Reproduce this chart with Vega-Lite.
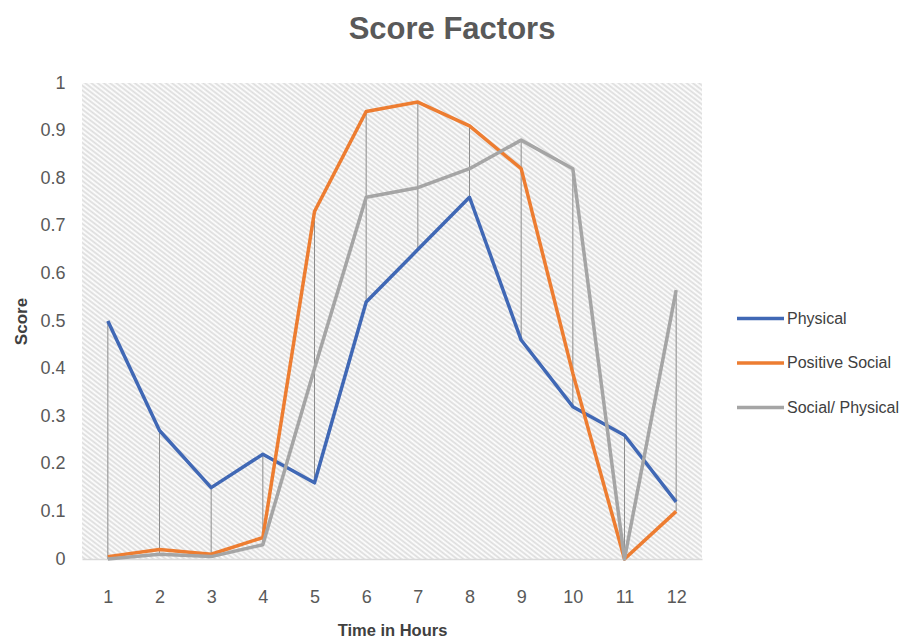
{
  "$schema": "https://vega.github.io/schema/vega-lite/v6.json",
  "autosize": {"type": "none"},
  "padding": {"left": 82, "top": 83, "right": 202, "bottom": 84},
  "width": 620,
  "height": 476,
  "background": "white",
  "title": {
    "text": "Score Factors",
    "font": "Liberation Sans, sans-serif",
    "fontSize": 31,
    "fontWeight": "bold",
    "color": "#595959",
    "anchor": "middle",
    "dx": 60,
    "offset": 28
  },
  "data": {
    "values": [
      {"hour": 1, "series": "Physical", "score": 0.50},
      {"hour": 2, "series": "Physical", "score": 0.27},
      {"hour": 3, "series": "Physical", "score": 0.15},
      {"hour": 4, "series": "Physical", "score": 0.22},
      {"hour": 5, "series": "Physical", "score": 0.16},
      {"hour": 6, "series": "Physical", "score": 0.54},
      {"hour": 7, "series": "Physical", "score": 0.65},
      {"hour": 8, "series": "Physical", "score": 0.76},
      {"hour": 9, "series": "Physical", "score": 0.46},
      {"hour": 10, "series": "Physical", "score": 0.32},
      {"hour": 11, "series": "Physical", "score": 0.26},
      {"hour": 12, "series": "Physical", "score": 0.12},
      {"hour": 1, "series": "Positive Social", "score": 0.005},
      {"hour": 2, "series": "Positive Social", "score": 0.02},
      {"hour": 3, "series": "Positive Social", "score": 0.01},
      {"hour": 4, "series": "Positive Social", "score": 0.045},
      {"hour": 5, "series": "Positive Social", "score": 0.73},
      {"hour": 6, "series": "Positive Social", "score": 0.94},
      {"hour": 7, "series": "Positive Social", "score": 0.96},
      {"hour": 8, "series": "Positive Social", "score": 0.91},
      {"hour": 9, "series": "Positive Social", "score": 0.82},
      {"hour": 10, "series": "Positive Social", "score": 0.39},
      {"hour": 11, "series": "Positive Social", "score": 0.0},
      {"hour": 12, "series": "Positive Social", "score": 0.10},
      {"hour": 1, "series": "Social/ Physical", "score": 0.0},
      {"hour": 2, "series": "Social/ Physical", "score": 0.01},
      {"hour": 3, "series": "Social/ Physical", "score": 0.005},
      {"hour": 4, "series": "Social/ Physical", "score": 0.03},
      {"hour": 5, "series": "Social/ Physical", "score": 0.40},
      {"hour": 6, "series": "Social/ Physical", "score": 0.76},
      {"hour": 7, "series": "Social/ Physical", "score": 0.78},
      {"hour": 8, "series": "Social/ Physical", "score": 0.82},
      {"hour": 9, "series": "Social/ Physical", "score": 0.88},
      {"hour": 10, "series": "Social/ Physical", "score": 0.82},
      {"hour": 11, "series": "Social/ Physical", "score": 0.0},
      {"hour": 12, "series": "Social/ Physical", "score": 0.565}
    ]
  },
  "encoding": {
    "x": {
      "field": "hour",
      "type": "ordinal",
      "scale": {"type": "point", "padding": 0.5},
      "axis": {
        "title": "Time in Hours",
        "labelAngle": 0,
        "labelFont": "Liberation Sans, sans-serif",
        "labelFontSize": 18,
        "labelColor": "#595959",
        "labelPadding": 29,
        "ticks": false,
        "grid": false,
        "domainColor": "#d9d9d9",
        "domainWidth": 1.5,
        "titleFont": "Liberation Sans, sans-serif",
        "titleFontSize": 16.5,
        "titleFontWeight": "bold",
        "titleColor": "#404040",
        "titlePadding": 16
      }
    },
    "y": {
      "field": "score",
      "type": "quantitative",
      "scale": {"domain": [0, 1], "nice": false},
      "axis": {
        "title": "Score",
        "values": [0, 0.1, 0.2, 0.3, 0.4, 0.5, 0.6, 0.7, 0.8, 0.9, 1],
        "format": "~g",
        "labelFont": "Liberation Sans, sans-serif",
        "labelFontSize": 18,
        "labelColor": "#595959",
        "labelPadding": 17,
        "ticks": false,
        "grid": false,
        "domain": false,
        "titleFont": "Liberation Sans, sans-serif",
        "titleFontSize": 17,
        "titleFontWeight": "bold",
        "titleColor": "#404040",
        "titlePadding": 9
      }
    }
  },
  "layer": [
    {
      "transform": [
        {
          "aggregate": [
            {"op": "min", "field": "score", "as": "lo"},
            {"op": "max", "field": "score", "as": "hi"}
          ],
          "groupby": ["hour"]
        }
      ],
      "mark": {"type": "rule", "color": "#8c8c8c", "strokeWidth": 1},
      "encoding": {
        "y": {"field": "lo", "type": "quantitative"},
        "y2": {"field": "hi"}
      }
    },
    {
      "mark": {"type": "line", "strokeWidth": 3.5, "strokeJoin": "round"},
      "encoding": {
        "color": {
          "field": "series",
          "type": "nominal",
          "scale": {
            "domain": ["Physical", "Positive Social", "Social/ Physical"],
            "range": ["#4068b5", "#ed7d31", "#a5a5a5"]
          },
          "legend": {
            "title": null,
            "orient": "none",
            "legendX": 653,
            "legendY": 210,
            "symbolType": "stroke",
            "symbolSize": 2209,
            "symbolStrokeWidth": 3.5,
            "labelFont": "Liberation Sans, sans-serif",
            "labelFontSize": 16,
            "labelColor": "#404040",
            "labelOffset": 1,
            "rowPadding": 10.5
          }
        }
      }
    }
  ],
  "config": {
    "view": {
      "stroke": null,
      "fill": {
        "gradient": "linear",
        "x1": 0, "y1": 1, "x2": 1, "y2": 0,
        "stops": [
          {"offset":0,"color":"#fff"},{"offset":0.0025,"color":"#dcdcdc"},{"offset":0.005,"color":"#fff"},{"offset":0.0075,"color":"#dcdcdc"},
          {"offset":0.01,"color":"#fff"},{"offset":0.0125,"color":"#dcdcdc"},{"offset":0.015,"color":"#fff"},{"offset":0.0175,"color":"#dcdcdc"},
          {"offset":0.02,"color":"#fff"},{"offset":0.0225,"color":"#dcdcdc"},{"offset":0.025,"color":"#fff"},{"offset":0.0275,"color":"#dcdcdc"},
          {"offset":0.03,"color":"#fff"},{"offset":0.0325,"color":"#dcdcdc"},{"offset":0.035,"color":"#fff"},{"offset":0.0375,"color":"#dcdcdc"},
          {"offset":0.04,"color":"#fff"},{"offset":0.0425,"color":"#dcdcdc"},{"offset":0.045,"color":"#fff"},{"offset":0.0475,"color":"#dcdcdc"},
          {"offset":0.05,"color":"#fff"},{"offset":0.0525,"color":"#dcdcdc"},{"offset":0.055,"color":"#fff"},{"offset":0.0575,"color":"#dcdcdc"},
          {"offset":0.06,"color":"#fff"},{"offset":0.0625,"color":"#dcdcdc"},{"offset":0.065,"color":"#fff"},{"offset":0.0675,"color":"#dcdcdc"},
          {"offset":0.07,"color":"#fff"},{"offset":0.0725,"color":"#dcdcdc"},{"offset":0.075,"color":"#fff"},{"offset":0.0775,"color":"#dcdcdc"},
          {"offset":0.08,"color":"#fff"},{"offset":0.0825,"color":"#dcdcdc"},{"offset":0.085,"color":"#fff"},{"offset":0.0875,"color":"#dcdcdc"},
          {"offset":0.09,"color":"#fff"},{"offset":0.0925,"color":"#dcdcdc"},{"offset":0.095,"color":"#fff"},{"offset":0.0975,"color":"#dcdcdc"},
          {"offset":0.1,"color":"#fff"},{"offset":0.1025,"color":"#dcdcdc"},{"offset":0.105,"color":"#fff"},{"offset":0.1075,"color":"#dcdcdc"},
          {"offset":0.11,"color":"#fff"},{"offset":0.1125,"color":"#dcdcdc"},{"offset":0.115,"color":"#fff"},{"offset":0.1175,"color":"#dcdcdc"},
          {"offset":0.12,"color":"#fff"},{"offset":0.1225,"color":"#dcdcdc"},{"offset":0.125,"color":"#fff"},{"offset":0.1275,"color":"#dcdcdc"},
          {"offset":0.13,"color":"#fff"},{"offset":0.1325,"color":"#dcdcdc"},{"offset":0.135,"color":"#fff"},{"offset":0.1375,"color":"#dcdcdc"},
          {"offset":0.14,"color":"#fff"},{"offset":0.1425,"color":"#dcdcdc"},{"offset":0.145,"color":"#fff"},{"offset":0.1475,"color":"#dcdcdc"},
          {"offset":0.15,"color":"#fff"},{"offset":0.1525,"color":"#dcdcdc"},{"offset":0.155,"color":"#fff"},{"offset":0.1575,"color":"#dcdcdc"},
          {"offset":0.16,"color":"#fff"},{"offset":0.1625,"color":"#dcdcdc"},{"offset":0.165,"color":"#fff"},{"offset":0.1675,"color":"#dcdcdc"},
          {"offset":0.17,"color":"#fff"},{"offset":0.1725,"color":"#dcdcdc"},{"offset":0.175,"color":"#fff"},{"offset":0.1775,"color":"#dcdcdc"},
          {"offset":0.18,"color":"#fff"},{"offset":0.1825,"color":"#dcdcdc"},{"offset":0.185,"color":"#fff"},{"offset":0.1875,"color":"#dcdcdc"},
          {"offset":0.19,"color":"#fff"},{"offset":0.1925,"color":"#dcdcdc"},{"offset":0.195,"color":"#fff"},{"offset":0.1975,"color":"#dcdcdc"},
          {"offset":0.2,"color":"#fff"},{"offset":0.2025,"color":"#dcdcdc"},{"offset":0.205,"color":"#fff"},{"offset":0.2075,"color":"#dcdcdc"},
          {"offset":0.21,"color":"#fff"},{"offset":0.2125,"color":"#dcdcdc"},{"offset":0.215,"color":"#fff"},{"offset":0.2175,"color":"#dcdcdc"},
          {"offset":0.22,"color":"#fff"},{"offset":0.2225,"color":"#dcdcdc"},{"offset":0.225,"color":"#fff"},{"offset":0.2275,"color":"#dcdcdc"},
          {"offset":0.23,"color":"#fff"},{"offset":0.2325,"color":"#dcdcdc"},{"offset":0.235,"color":"#fff"},{"offset":0.2375,"color":"#dcdcdc"},
          {"offset":0.24,"color":"#fff"},{"offset":0.2425,"color":"#dcdcdc"},{"offset":0.245,"color":"#fff"},{"offset":0.2475,"color":"#dcdcdc"},
          {"offset":0.25,"color":"#fff"},{"offset":0.2525,"color":"#dcdcdc"},{"offset":0.255,"color":"#fff"},{"offset":0.2575,"color":"#dcdcdc"},
          {"offset":0.26,"color":"#fff"},{"offset":0.2625,"color":"#dcdcdc"},{"offset":0.265,"color":"#fff"},{"offset":0.2675,"color":"#dcdcdc"},
          {"offset":0.27,"color":"#fff"},{"offset":0.2725,"color":"#dcdcdc"},{"offset":0.275,"color":"#fff"},{"offset":0.2775,"color":"#dcdcdc"},
          {"offset":0.28,"color":"#fff"},{"offset":0.2825,"color":"#dcdcdc"},{"offset":0.285,"color":"#fff"},{"offset":0.2875,"color":"#dcdcdc"},
          {"offset":0.29,"color":"#fff"},{"offset":0.2925,"color":"#dcdcdc"},{"offset":0.295,"color":"#fff"},{"offset":0.2975,"color":"#dcdcdc"},
          {"offset":0.3,"color":"#fff"},{"offset":0.3025,"color":"#dcdcdc"},{"offset":0.305,"color":"#fff"},{"offset":0.3075,"color":"#dcdcdc"},
          {"offset":0.31,"color":"#fff"},{"offset":0.3125,"color":"#dcdcdc"},{"offset":0.315,"color":"#fff"},{"offset":0.3175,"color":"#dcdcdc"},
          {"offset":0.32,"color":"#fff"},{"offset":0.3225,"color":"#dcdcdc"},{"offset":0.325,"color":"#fff"},{"offset":0.3275,"color":"#dcdcdc"},
          {"offset":0.33,"color":"#fff"},{"offset":0.3325,"color":"#dcdcdc"},{"offset":0.335,"color":"#fff"},{"offset":0.3375,"color":"#dcdcdc"},
          {"offset":0.34,"color":"#fff"},{"offset":0.3425,"color":"#dcdcdc"},{"offset":0.345,"color":"#fff"},{"offset":0.3475,"color":"#dcdcdc"},
          {"offset":0.35,"color":"#fff"},{"offset":0.3525,"color":"#dcdcdc"},{"offset":0.355,"color":"#fff"},{"offset":0.3575,"color":"#dcdcdc"},
          {"offset":0.36,"color":"#fff"},{"offset":0.3625,"color":"#dcdcdc"},{"offset":0.365,"color":"#fff"},{"offset":0.3675,"color":"#dcdcdc"},
          {"offset":0.37,"color":"#fff"},{"offset":0.3725,"color":"#dcdcdc"},{"offset":0.375,"color":"#fff"},{"offset":0.3775,"color":"#dcdcdc"},
          {"offset":0.38,"color":"#fff"},{"offset":0.3825,"color":"#dcdcdc"},{"offset":0.385,"color":"#fff"},{"offset":0.3875,"color":"#dcdcdc"},
          {"offset":0.39,"color":"#fff"},{"offset":0.3925,"color":"#dcdcdc"},{"offset":0.395,"color":"#fff"},{"offset":0.3975,"color":"#dcdcdc"},
          {"offset":0.4,"color":"#fff"},{"offset":0.4025,"color":"#dcdcdc"},{"offset":0.405,"color":"#fff"},{"offset":0.4075,"color":"#dcdcdc"},
          {"offset":0.41,"color":"#fff"},{"offset":0.4125,"color":"#dcdcdc"},{"offset":0.415,"color":"#fff"},{"offset":0.4175,"color":"#dcdcdc"},
          {"offset":0.42,"color":"#fff"},{"offset":0.4225,"color":"#dcdcdc"},{"offset":0.425,"color":"#fff"},{"offset":0.4275,"color":"#dcdcdc"},
          {"offset":0.43,"color":"#fff"},{"offset":0.4325,"color":"#dcdcdc"},{"offset":0.435,"color":"#fff"},{"offset":0.4375,"color":"#dcdcdc"},
          {"offset":0.44,"color":"#fff"},{"offset":0.4425,"color":"#dcdcdc"},{"offset":0.445,"color":"#fff"},{"offset":0.4475,"color":"#dcdcdc"},
          {"offset":0.45,"color":"#fff"},{"offset":0.4525,"color":"#dcdcdc"},{"offset":0.455,"color":"#fff"},{"offset":0.4575,"color":"#dcdcdc"},
          {"offset":0.46,"color":"#fff"},{"offset":0.4625,"color":"#dcdcdc"},{"offset":0.465,"color":"#fff"},{"offset":0.4675,"color":"#dcdcdc"},
          {"offset":0.47,"color":"#fff"},{"offset":0.4725,"color":"#dcdcdc"},{"offset":0.475,"color":"#fff"},{"offset":0.4775,"color":"#dcdcdc"},
          {"offset":0.48,"color":"#fff"},{"offset":0.4825,"color":"#dcdcdc"},{"offset":0.485,"color":"#fff"},{"offset":0.4875,"color":"#dcdcdc"},
          {"offset":0.49,"color":"#fff"},{"offset":0.4925,"color":"#dcdcdc"},{"offset":0.495,"color":"#fff"},{"offset":0.4975,"color":"#dcdcdc"},
          {"offset":0.5,"color":"#fff"},{"offset":0.5025,"color":"#dcdcdc"},{"offset":0.505,"color":"#fff"},{"offset":0.5075,"color":"#dcdcdc"},
          {"offset":0.51,"color":"#fff"},{"offset":0.5125,"color":"#dcdcdc"},{"offset":0.515,"color":"#fff"},{"offset":0.5175,"color":"#dcdcdc"},
          {"offset":0.52,"color":"#fff"},{"offset":0.5225,"color":"#dcdcdc"},{"offset":0.525,"color":"#fff"},{"offset":0.5275,"color":"#dcdcdc"},
          {"offset":0.53,"color":"#fff"},{"offset":0.5325,"color":"#dcdcdc"},{"offset":0.535,"color":"#fff"},{"offset":0.5375,"color":"#dcdcdc"},
          {"offset":0.54,"color":"#fff"},{"offset":0.5425,"color":"#dcdcdc"},{"offset":0.545,"color":"#fff"},{"offset":0.5475,"color":"#dcdcdc"},
          {"offset":0.55,"color":"#fff"},{"offset":0.5525,"color":"#dcdcdc"},{"offset":0.555,"color":"#fff"},{"offset":0.5575,"color":"#dcdcdc"},
          {"offset":0.56,"color":"#fff"},{"offset":0.5625,"color":"#dcdcdc"},{"offset":0.565,"color":"#fff"},{"offset":0.5675,"color":"#dcdcdc"},
          {"offset":0.57,"color":"#fff"},{"offset":0.5725,"color":"#dcdcdc"},{"offset":0.575,"color":"#fff"},{"offset":0.5775,"color":"#dcdcdc"},
          {"offset":0.58,"color":"#fff"},{"offset":0.5825,"color":"#dcdcdc"},{"offset":0.585,"color":"#fff"},{"offset":0.5875,"color":"#dcdcdc"},
          {"offset":0.59,"color":"#fff"},{"offset":0.5925,"color":"#dcdcdc"},{"offset":0.595,"color":"#fff"},{"offset":0.5975,"color":"#dcdcdc"},
          {"offset":0.6,"color":"#fff"},{"offset":0.6025,"color":"#dcdcdc"},{"offset":0.605,"color":"#fff"},{"offset":0.6075,"color":"#dcdcdc"},
          {"offset":0.61,"color":"#fff"},{"offset":0.6125,"color":"#dcdcdc"},{"offset":0.615,"color":"#fff"},{"offset":0.6175,"color":"#dcdcdc"},
          {"offset":0.62,"color":"#fff"},{"offset":0.6225,"color":"#dcdcdc"},{"offset":0.625,"color":"#fff"},{"offset":0.6275,"color":"#dcdcdc"},
          {"offset":0.63,"color":"#fff"},{"offset":0.6325,"color":"#dcdcdc"},{"offset":0.635,"color":"#fff"},{"offset":0.6375,"color":"#dcdcdc"},
          {"offset":0.64,"color":"#fff"},{"offset":0.6425,"color":"#dcdcdc"},{"offset":0.645,"color":"#fff"},{"offset":0.6475,"color":"#dcdcdc"},
          {"offset":0.65,"color":"#fff"},{"offset":0.6525,"color":"#dcdcdc"},{"offset":0.655,"color":"#fff"},{"offset":0.6575,"color":"#dcdcdc"},
          {"offset":0.66,"color":"#fff"},{"offset":0.6625,"color":"#dcdcdc"},{"offset":0.665,"color":"#fff"},{"offset":0.6675,"color":"#dcdcdc"},
          {"offset":0.67,"color":"#fff"},{"offset":0.6725,"color":"#dcdcdc"},{"offset":0.675,"color":"#fff"},{"offset":0.6775,"color":"#dcdcdc"},
          {"offset":0.68,"color":"#fff"},{"offset":0.6825,"color":"#dcdcdc"},{"offset":0.685,"color":"#fff"},{"offset":0.6875,"color":"#dcdcdc"},
          {"offset":0.69,"color":"#fff"},{"offset":0.6925,"color":"#dcdcdc"},{"offset":0.695,"color":"#fff"},{"offset":0.6975,"color":"#dcdcdc"},
          {"offset":0.7,"color":"#fff"},{"offset":0.7025,"color":"#dcdcdc"},{"offset":0.705,"color":"#fff"},{"offset":0.7075,"color":"#dcdcdc"},
          {"offset":0.71,"color":"#fff"},{"offset":0.7125,"color":"#dcdcdc"},{"offset":0.715,"color":"#fff"},{"offset":0.7175,"color":"#dcdcdc"},
          {"offset":0.72,"color":"#fff"},{"offset":0.7225,"color":"#dcdcdc"},{"offset":0.725,"color":"#fff"},{"offset":0.7275,"color":"#dcdcdc"},
          {"offset":0.73,"color":"#fff"},{"offset":0.7325,"color":"#dcdcdc"},{"offset":0.735,"color":"#fff"},{"offset":0.7375,"color":"#dcdcdc"},
          {"offset":0.74,"color":"#fff"},{"offset":0.7425,"color":"#dcdcdc"},{"offset":0.745,"color":"#fff"},{"offset":0.7475,"color":"#dcdcdc"},
          {"offset":0.75,"color":"#fff"},{"offset":0.7525,"color":"#dcdcdc"},{"offset":0.755,"color":"#fff"},{"offset":0.7575,"color":"#dcdcdc"},
          {"offset":0.76,"color":"#fff"},{"offset":0.7625,"color":"#dcdcdc"},{"offset":0.765,"color":"#fff"},{"offset":0.7675,"color":"#dcdcdc"},
          {"offset":0.77,"color":"#fff"},{"offset":0.7725,"color":"#dcdcdc"},{"offset":0.775,"color":"#fff"},{"offset":0.7775,"color":"#dcdcdc"},
          {"offset":0.78,"color":"#fff"},{"offset":0.7825,"color":"#dcdcdc"},{"offset":0.785,"color":"#fff"},{"offset":0.7875,"color":"#dcdcdc"},
          {"offset":0.79,"color":"#fff"},{"offset":0.7925,"color":"#dcdcdc"},{"offset":0.795,"color":"#fff"},{"offset":0.7975,"color":"#dcdcdc"},
          {"offset":0.8,"color":"#fff"},{"offset":0.8025,"color":"#dcdcdc"},{"offset":0.805,"color":"#fff"},{"offset":0.8075,"color":"#dcdcdc"},
          {"offset":0.81,"color":"#fff"},{"offset":0.8125,"color":"#dcdcdc"},{"offset":0.815,"color":"#fff"},{"offset":0.8175,"color":"#dcdcdc"},
          {"offset":0.82,"color":"#fff"},{"offset":0.8225,"color":"#dcdcdc"},{"offset":0.825,"color":"#fff"},{"offset":0.8275,"color":"#dcdcdc"},
          {"offset":0.83,"color":"#fff"},{"offset":0.8325,"color":"#dcdcdc"},{"offset":0.835,"color":"#fff"},{"offset":0.8375,"color":"#dcdcdc"},
          {"offset":0.84,"color":"#fff"},{"offset":0.8425,"color":"#dcdcdc"},{"offset":0.845,"color":"#fff"},{"offset":0.8475,"color":"#dcdcdc"},
          {"offset":0.85,"color":"#fff"},{"offset":0.8525,"color":"#dcdcdc"},{"offset":0.855,"color":"#fff"},{"offset":0.8575,"color":"#dcdcdc"},
          {"offset":0.86,"color":"#fff"},{"offset":0.8625,"color":"#dcdcdc"},{"offset":0.865,"color":"#fff"},{"offset":0.8675,"color":"#dcdcdc"},
          {"offset":0.87,"color":"#fff"},{"offset":0.8725,"color":"#dcdcdc"},{"offset":0.875,"color":"#fff"},{"offset":0.8775,"color":"#dcdcdc"},
          {"offset":0.88,"color":"#fff"},{"offset":0.8825,"color":"#dcdcdc"},{"offset":0.885,"color":"#fff"},{"offset":0.8875,"color":"#dcdcdc"},
          {"offset":0.89,"color":"#fff"},{"offset":0.8925,"color":"#dcdcdc"},{"offset":0.895,"color":"#fff"},{"offset":0.8975,"color":"#dcdcdc"},
          {"offset":0.9,"color":"#fff"},{"offset":0.9025,"color":"#dcdcdc"},{"offset":0.905,"color":"#fff"},{"offset":0.9075,"color":"#dcdcdc"},
          {"offset":0.91,"color":"#fff"},{"offset":0.9125,"color":"#dcdcdc"},{"offset":0.915,"color":"#fff"},{"offset":0.9175,"color":"#dcdcdc"},
          {"offset":0.92,"color":"#fff"},{"offset":0.9225,"color":"#dcdcdc"},{"offset":0.925,"color":"#fff"},{"offset":0.9275,"color":"#dcdcdc"},
          {"offset":0.93,"color":"#fff"},{"offset":0.9325,"color":"#dcdcdc"},{"offset":0.935,"color":"#fff"},{"offset":0.9375,"color":"#dcdcdc"},
          {"offset":0.94,"color":"#fff"},{"offset":0.9425,"color":"#dcdcdc"},{"offset":0.945,"color":"#fff"},{"offset":0.9475,"color":"#dcdcdc"},
          {"offset":0.95,"color":"#fff"},{"offset":0.9525,"color":"#dcdcdc"},{"offset":0.955,"color":"#fff"},{"offset":0.9575,"color":"#dcdcdc"},
          {"offset":0.96,"color":"#fff"},{"offset":0.9625,"color":"#dcdcdc"},{"offset":0.965,"color":"#fff"},{"offset":0.9675,"color":"#dcdcdc"},
          {"offset":0.97,"color":"#fff"},{"offset":0.9725,"color":"#dcdcdc"},{"offset":0.975,"color":"#fff"},{"offset":0.9775,"color":"#dcdcdc"},
          {"offset":0.98,"color":"#fff"},{"offset":0.9825,"color":"#dcdcdc"},{"offset":0.985,"color":"#fff"},{"offset":0.9875,"color":"#dcdcdc"},
          {"offset":0.99,"color":"#fff"},{"offset":0.9925,"color":"#dcdcdc"},{"offset":0.995,"color":"#fff"},{"offset":0.9975,"color":"#dcdcdc"},
          {"offset":1,"color":"#fff"}
        ]
      }
    }
  }
}
